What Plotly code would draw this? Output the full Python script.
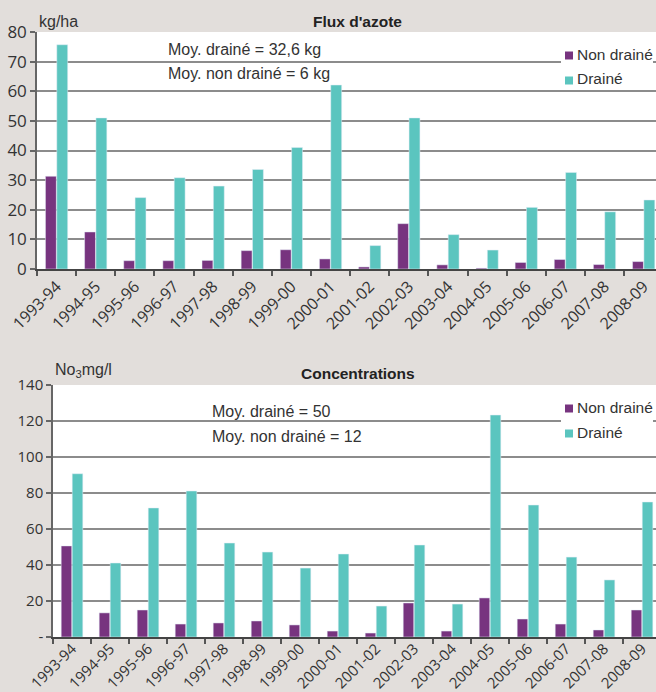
import plotly.graph_objects as go

# Campagnes de drainage
campagnes = ["1993-94", "1994-95", "1995-96", "1996-97", "1997-98", "1998-99",
             "1999-00", "2000-01", "2001-02", "2002-03", "2003-04", "2004-05",
             "2005-06", "2006-07", "2007-08", "2008-09"]

# Flux d'azote (kg/ha)
flux_non_draine = [31.3, 12.5, 2.8, 2.8, 2.9, 6.2, 6.5, 3.4, 0.7, 15.3,
                   1.4, 0.3, 2.2, 3.2, 1.5, 2.5]
flux_draine = [75.7, 51.0, 24.1, 30.8, 28.0, 33.6, 41.0, 62.1, 7.9, 51.0,
               11.6, 6.4, 20.8, 32.6, 19.3, 23.3]

# Concentrations (mg NO3/l)
conc_non_draine = [50.6, 13.4, 15.0, 7.2, 7.8, 8.9, 6.7, 3.3, 2.2, 18.9,
                   3.3, 21.7, 10.0, 7.2, 3.9, 15.0]
conc_draine = [90.7, 41.1, 71.7, 81.1, 52.2, 47.2, 38.3, 46.1, 17.2, 51.1,
               18.3, 123.3, 73.3, 44.4, 31.7, 75.0]

# Axis ticks
flux_ticks = [0, 10, 20, 30, 40, 50, 60, 70, 80]
conc_ticks = [0, 20, 40, 60, 80, 100, 120, 140]
conc_tick_labels = ["-", "20", "40", "60", "80", "100", "120", "140"]

W, H = 656, 692
VIOLET = "#77347F"
TURQUOISE = "#5BC5BF"
BG = "#E2DEDB"
GRID = "#8C8C8C"
TXT = "#333333"
FONT = "Liberation Sans, Arial, sans-serif"
TICKFONT = "Open Sans, Liberation Sans, sans-serif"


def px(x):
    return x / W


def py(y):
    return 1 - y / H


fig = go.Figure()

fig.add_trace(go.Bar(x=campagnes, y=flux_non_draine, name="Non drainé",
                     marker_color=VIOLET, xaxis="x", yaxis="y", showlegend=False))
fig.add_trace(go.Bar(x=campagnes, y=flux_draine, name="Drainé",
                     marker_color=TURQUOISE, xaxis="x", yaxis="y", showlegend=False))
fig.add_trace(go.Bar(x=campagnes, y=conc_non_draine, name="Non drainé",
                     marker_color=VIOLET, xaxis="x2", yaxis="y2", showlegend=False))
fig.add_trace(go.Bar(x=campagnes, y=conc_draine, name="Drainé",
                     marker_color=TURQUOISE, xaxis="x2", yaxis="y2", showlegend=False))

xcommon = dict(type="category", tickson="boundaries", ticks="outside", ticklen=5,
               tickcolor="#555", tickwidth=1.5, showline=True, linecolor="#444",
               linewidth=2, showgrid=False, tickangle=-45, automargin=False,
               tickfont=dict(family=TICKFONT, size=16, color=TXT), fixedrange=True)
ycommon = dict(showline=True, linecolor="#666", linewidth=1.5, ticks="outside",
               ticklen=5, tickcolor="#666", tickwidth=1.5, showgrid=True,
               gridcolor=GRID, gridwidth=2, zeroline=False, fixedrange=True,
               automargin=False)

fig.update_layout(
    width=W, height=H,
    margin=dict(l=0, r=0, t=0, b=0, pad=0, autoexpand=False),
    paper_bgcolor=BG, plot_bgcolor="white",
    barmode="group", bargap=0.42, bargroupgap=0.04,
    showlegend=False,
    xaxis=dict(xcommon, domain=[px(37), 1], anchor="y", range=[-0.5, 15.315]),
    yaxis=dict(ycommon, domain=[py(269), py(32)], anchor="x", range=[0, 80],
               tickvals=flux_ticks,
               tickfont=dict(family=TICKFONT, size=17, color=TXT)),
    xaxis2=dict(xcommon, domain=[px(53), 1], anchor="y2", range=[-0.5, 15.368],
                ticklabelstandoff=-5,
                tickfont=dict(family=TICKFONT, size=15, color=TXT)),
    yaxis2=dict(ycommon, domain=[py(637), py(385)], anchor="x2", range=[0, 140],
                tickvals=conc_ticks, ticktext=conc_tick_labels,
                tickfont=dict(family=TICKFONT, size=15, color=TXT)),
)

annotations = []
shapes = []


def text(x, y, s, size=16, bold=False, anchor="left"):
    annotations.append(dict(
        x=px(x), y=py(y), xref="paper", yref="paper", text=f"<b>{s}</b>" if bold else s,
        showarrow=False, xanchor=anchor, yanchor="middle",
        font=dict(family=FONT, size=size, color="#222" if bold else TXT)))


def legend_box(x0, y0, x1, y1, y_items):
    shapes.append(dict(type="rect", xref="paper", yref="paper",
                       x0=px(x0), x1=px(x1), y0=py(y1), y1=py(y0),
                       fillcolor="white", line=dict(width=0), layer="above"))
    for (yc, color, label) in y_items:
        shapes.append(dict(type="rect", xref="paper", yref="paper",
                           x0=px(565), x1=px(573), y0=py(yc + 4), y1=py(yc - 4),
                           fillcolor=color, line=dict(width=0), layer="above"))
        text(575, yc - 1.5, label, size=15.5)


# Flux d'azote
text(357, 21, "Flux d'azote", size=15.5, bold=True, anchor="center")
text(37, 22, "kg/ha", size=16)
text(166, 50, "Moy. drainé = 32,6 kg", size=16)
text(166, 74, "Moy. non drainé = 6 kg", size=16)
legend_box(561, 36, 653, 87, [(55.5, VIOLET, "Non drainé"), (80.5, TURQUOISE, "Drainé")])

# Concentrations
text(358, 373, "Concentrations", size=15.5, bold=True, anchor="center")
text(53, 370, "No<sub>3</sub>mg/l", size=16)
text(210, 411, "Moy. drainé = 50", size=16)
text(210, 436, "Moy. non drainé = 12", size=16)
legend_box(561, 390, 653, 447, [(408.5, VIOLET, "Non drainé"), (433.5, TURQUOISE, "Drainé")])

fig.update_layout(annotations=annotations, shapes=shapes)

fig.write_html("out.html")
